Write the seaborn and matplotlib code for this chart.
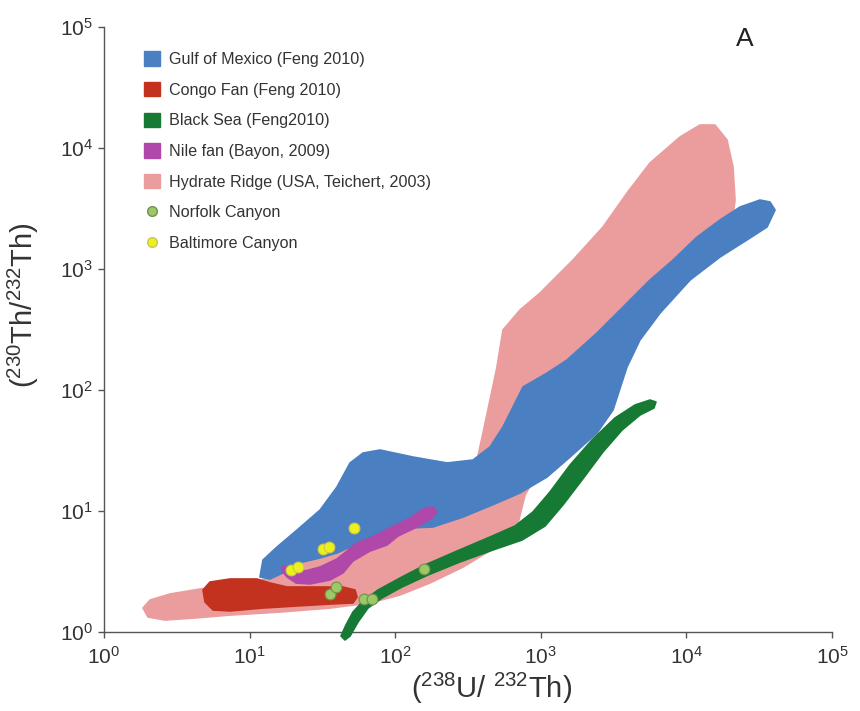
import matplotlib
matplotlib.use("Agg")
import matplotlib.pyplot as plt
import seaborn as sns
import numpy as np
import pandas as pd
from matplotlib.patches import Patch
from matplotlib.lines import Line2D

# Field outlines, given as log10 of (238U/232Th) and (230Th/232Th)
hydrate_lu = [0.268, 0.316, 0.453, 0.659, 0.865, 1.071, 1.346, 1.690, 2.170, 2.562, 2.603, 2.651,
              2.699, 2.740, 2.857, 2.995, 3.221, 3.427, 3.592, 3.750, 3.956, 4.093, 4.196, 4.279,
              4.320, 4.334, 4.313, 4.231, 4.025, 3.798, 3.544, 3.269, 3.029, 2.892, 2.837, 2.740,
              2.466, 2.239, 2.033, 1.827, 1.552, 1.209, 0.865, 0.625, 0.419, 0.302]
hydrate_lth = [0.198, 0.264, 0.314, 0.355, 0.388, 0.421, 0.570, 0.719, 1.050, 1.421, 1.645, 1.917,
               2.190, 2.496, 2.661, 2.802, 3.074, 3.347, 3.628, 3.876, 4.091, 4.190, 4.190, 4.066,
               3.843, 3.570, 3.364, 3.182, 2.909, 2.661, 2.331, 1.835, 1.421, 1.132, 0.868, 0.736,
               0.537, 0.405, 0.306, 0.240, 0.198, 0.165, 0.140, 0.116, 0.099, 0.124]

gulf_lu = [1.071, 1.092, 1.188, 1.326, 1.484, 1.600, 1.690, 1.779, 1.896, 2.122, 2.356, 2.534,
           2.651, 2.740, 2.809, 2.878, 3.043, 3.180, 3.386, 3.565, 3.750, 3.908, 4.073, 4.231,
           4.368, 4.505, 4.574, 4.609, 4.554, 4.416, 4.231, 4.025, 3.819, 3.681, 3.592, 3.496,
           3.386, 3.201, 3.043, 2.857, 2.699, 2.466, 2.260, 2.102, 1.827, 1.690, 1.600, 1.484,
           1.367, 1.243, 1.140]
gulf_lth = [0.455, 0.595, 0.702, 0.843, 1.008, 1.198, 1.397, 1.479, 1.504, 1.446, 1.397, 1.421,
            1.529, 1.694, 1.860, 2.025, 2.140, 2.248, 2.471, 2.686, 2.909, 3.074, 3.264, 3.405,
            3.512, 3.570, 3.554, 3.488, 3.347, 3.240, 3.099, 2.909, 2.636, 2.413, 2.190, 1.835,
            1.645, 1.446, 1.281, 1.149, 1.066, 0.950, 0.868, 0.860, 0.760, 0.702, 0.653, 0.612,
            0.579, 0.496, 0.438]

congo_lu = [0.680, 0.728, 0.865, 1.051, 1.140, 1.257, 1.463, 1.641, 1.724, 1.738, 1.710, 1.552,
            1.326, 1.092, 0.865, 0.749, 0.694]
congo_lth = [0.347, 0.413, 0.438, 0.438, 0.405, 0.372, 0.372, 0.372, 0.347, 0.289, 0.240, 0.231,
             0.215, 0.198, 0.174, 0.182, 0.248]

nile_lu = [1.223, 1.291, 1.380, 1.484, 1.600, 1.669, 1.724, 1.841, 1.964, 2.102, 2.205, 2.260,
           2.287, 2.253, 2.150, 2.019, 1.944, 1.827, 1.710, 1.641, 1.552, 1.415, 1.319, 1.257, 1.223]
nile_lth = [0.537, 0.545, 0.504, 0.537, 0.603, 0.669, 0.727, 0.785, 0.860, 0.942, 1.025, 1.033,
            0.992, 0.942, 0.868, 0.793, 0.719, 0.669, 0.587, 0.488, 0.430, 0.397, 0.405, 0.455, 0.504]

black_lu = [1.628, 1.662, 1.710, 1.779, 1.882, 2.033, 2.205, 2.424, 2.651, 2.823, 2.946, 3.063,
            3.201, 3.352, 3.510, 3.647, 3.750, 3.791,
            3.777, 3.681, 3.558, 3.427, 3.283, 3.152, 3.029, 2.871, 2.672, 2.445, 2.225, 2.047,
            1.909, 1.813, 1.745, 1.690, 1.655]
black_lth = [-0.033, 0.058, 0.165, 0.256, 0.347, 0.446, 0.554, 0.669, 0.785, 0.876, 0.992, 1.157,
             1.380, 1.587, 1.769, 1.876, 1.917, 1.901,
             1.851, 1.793, 1.669, 1.488, 1.256, 1.050, 0.876, 0.760, 0.678, 0.579, 0.471, 0.372,
             0.281, 0.198, 0.083, -0.033, -0.066]

# Sample points
norfolk_u = [35.7, 39.2, 61.1, 69.3, 157.7]
norfolk_th = [2.06, 2.35, 1.87, 1.87, 3.32]
baltimore_u = [19.3, 21.5, 31.9, 35.1, 52.1]
baltimore_th = [3.25, 3.44, 4.85, 5.04, 7.24]

labels = ["Gulf of Mexico (Feng 2010)", "Congo Fan (Feng 2010)", "Black Sea (Feng2010)",
          "Nile fan (Bayon, 2009)", "Hydrate Ridge (USA, Teichert, 2003)",
          "Norfolk Canyon", "Baltimore Canyon"]

c_gulf = "#4a7fc2"
c_congo = "#c3321f"
c_black = "#177a34"
c_nile = "#b048aa"
c_hydrate = "#eb9c9c"
c_norfolk = "#9cc866"
c_balt = "#eef01e"

sns.set_theme(style="ticks")
plt.rcParams["font.family"] = ["Liberation Sans", "DejaVu Sans"]
plt.rcParams["mathtext.fontset"] = "custom"
plt.rcParams["mathtext.rm"] = "Liberation Sans"
plt.rcParams["mathtext.it"] = "Liberation Sans"

fig = plt.figure(figsize=(8.6, 7.11), dpi=100)
ax = fig.add_axes([104 / 860, 1 - 632 / 711, 728 / 860, 605 / 711])
ax.set_xscale("log")
ax.set_yscale("log")
ax.set_xlim(1, 1e5)
ax.set_ylim(1, 1e5)


def field(lu, lth, color, z, clip=True):
    ax.fill(np.power(10.0, lu), np.power(10.0, lth), facecolor=color, edgecolor=color,
            lw=1.2, joinstyle="round", zorder=z, clip_on=clip)


field(hydrate_lu, hydrate_lth, c_hydrate, 1)
field(gulf_lu, gulf_lth, c_gulf, 2)
field(congo_lu, congo_lth, c_congo, 3)
field(nile_lu, nile_lth, c_nile, 4)
field(black_lu, black_lth, c_black, 5, clip=False)

pts = pd.DataFrame({
    "u": norfolk_u + baltimore_u,
    "th": norfolk_th + baltimore_th,
    "site": ["Norfolk Canyon"] * len(norfolk_u) + ["Baltimore Canyon"] * len(baltimore_u),
})
sns.scatterplot(data=pts[pts.site == "Norfolk Canyon"], x="u", y="th", color=c_norfolk,
                edgecolor="#6f9250", linewidth=0.8, s=60, zorder=6, legend=False, ax=ax,
                clip_on=False)
sns.scatterplot(data=pts[pts.site == "Baltimore Canyon"], x="u", y="th", color=c_balt,
                edgecolor="#c9c94a", linewidth=0.8, s=60, zorder=6, legend=False, ax=ax,
                clip_on=False)

sns.despine(ax=ax)
for sp in ["left", "bottom"]:
    ax.spines[sp].set_color("#555555")
    ax.spines[sp].set_linewidth(1.0)
ax.minorticks_off()
ax.set_xticks([1, 10, 100, 1e3, 1e4, 1e5])
ax.set_yticks([1, 10, 100, 1e3, 1e4, 1e5])
ax.tick_params(axis="x", which="major", pad=6)
ax.tick_params(axis="y", which="major", pad=4)
ax.tick_params(axis="both", which="major", direction="out", length=4, width=1,
               color="#555555", labelsize=15, labelcolor="#333333")

ax.set_xlabel(r"($^{238}$U/ $^{232}$Th)", fontsize=21, color="#333333")
ax.set_ylabel(r"($^{230}$Th/$^{232}$Th)", fontsize=21, color="#333333")
ax.xaxis.set_label_coords(0.533, -0.064)
ax.yaxis.set_label_coords(-0.087, 0.54)

ax.text(0.880, 0.98, "A", transform=ax.transAxes, fontsize=19, color="#222222",
        ha="center", va="center")

handles = [Patch(facecolor=c, edgecolor=c) for c in [c_gulf, c_congo, c_black, c_nile, c_hydrate]]
handles += [
    Line2D([], [], ls="none", marker="o", markersize=7, markerfacecolor=c_norfolk,
           markeredgecolor="#6f9250"),
    Line2D([], [], ls="none", marker="o", markersize=7, markerfacecolor=c_balt,
           markeredgecolor="#c9c94a"),
]
ax.legend(handles, labels, loc="upper left", bbox_to_anchor=(0.055, 0.96), frameon=False,
          fontsize=11.6, handlelength=1.0, handleheight=1.0, handletextpad=0.55,
          labelspacing=0.93, borderpad=0, borderaxespad=0, labelcolor="#333333")

fig.savefig("out.png", dpi=100)
